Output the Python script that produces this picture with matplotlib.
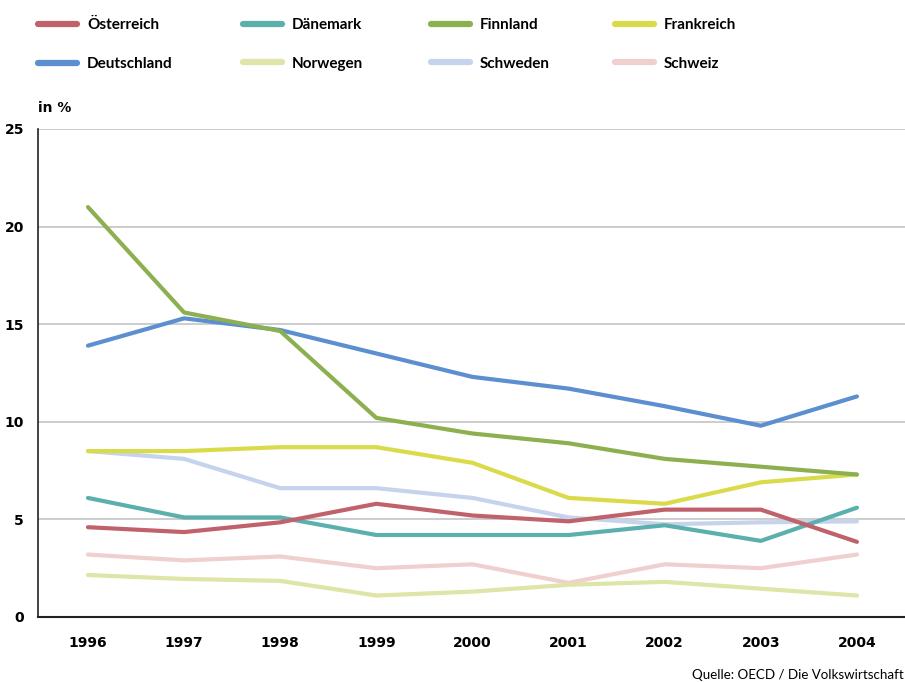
import matplotlib
matplotlib.use("Agg")
import matplotlib.pyplot as plt

years = [1996, 1997, 1998, 1999, 2000, 2001, 2002, 2003, 2004]

oesterreich = [4.6, 4.35, 4.85, 5.8, 5.2, 4.9, 5.5, 5.5, 3.85]
daenemark = [6.1, 5.1, 5.1, 4.2, 4.2, 4.2, 4.7, 3.9, 5.6]
finnland = [21.0, 15.6, 14.65, 10.2, 9.4, 8.9, 8.1, 7.7, 7.3]
frankreich = [8.5, 8.5, 8.7, 8.7, 7.9, 6.1, 5.8, 6.9, 7.3]
deutschland = [13.9, 15.3, 14.7, 13.5, 12.3, 11.7, 10.8, 9.8, 11.3]
norwegen = [2.15, 1.95, 1.85, 1.1, 1.3, 1.65, 1.8, 1.45, 1.1]
schweden = [8.5, 8.1, 6.6, 6.6, 6.1, 5.1, 4.75, 4.85, 4.9]
schweiz = [3.2, 2.9, 3.1, 2.5, 2.7, 1.75, 2.7, 2.5, 3.2]

y_ticks = [0, 5, 10, 15, 20, 25]

series = {
    "Österreich": (oesterreich, "#c0626c"),
    "Dänemark": (daenemark, "#5bb0ad"),
    "Finnland": (finnland, "#8cb050"),
    "Frankreich": (frankreich, "#d9db4a"),
    "Deutschland": (deutschland, "#5b8fcf"),
    "Norwegen": (norwegen, "#dfe4a8"),
    "Schweden": (schweden, "#c5d3ec"),
    "Schweiz": (schweiz, "#f0cfcf"),
}
# drawing order (back to front)
zorders = {"Schweiz": 2, "Norwegen": 3, "Schweden": 4, "Deutschland": 5,
           "Dänemark": 6, "Österreich": 7, "Frankreich": 8, "Finnland": 9}

label_font = "Lato"

fig = plt.figure(figsize=(9.05, 6.82), dpi=100)
ax = fig.add_axes([38 / 905, 65 / 682, 867 / 905, 488 / 682])

lines = {}
for name, (vals, col) in series.items():
    ln, = ax.plot(years, vals, color=col, lw=3.0, solid_capstyle="round",
                  solid_joinstyle="round", zorder=zorders[name], label=name)
    lines[name] = ln

ax.set_xlim(1995.48, 2004.5)
ax.set_ylim(0, 25)
ax.set_yticks(y_ticks)
ax.set_xticks(years)
ax.set_xticklabels([str(y) for y in years], fontsize=10, fontweight="bold",
                   family="DejaVu Sans")
ax.set_yticklabels([str(v) for v in y_ticks], fontsize=10, fontweight="bold",
                   family="DejaVu Sans")
ax.tick_params(axis="both", length=0)
ax.tick_params(axis="y", pad=10)
ax.tick_params(axis="x", pad=14)
ax.yaxis.grid(True, color="#c4c4c4", lw=1.2, zorder=0)
ax.set_axisbelow(True)
for s in ["top", "right"]:
    ax.spines[s].set_visible(False)
ax.spines["left"].set_color("#222222")
ax.spines["bottom"].set_color("#222222")
ax.spines["left"].set_linewidth(1.2)
ax.spines["bottom"].set_linewidth(1.5)

fig.text(38 / 905, 1 - 108 / 682, "in %", fontsize=10, fontweight="bold",
         family="DejaVu Sans", va="center", ha="left")

# legend in four columns of two entries
columns = [["Österreich", "Deutschland"], ["Dänemark", "Norwegen"],
           ["Finnland", "Schweden"], ["Frankreich", "Schweiz"]]
col_x = [38, 243, 431, 615]
for cx, names in zip(col_x, columns):
    leg = fig.legend([lines[n] for n in names], names, loc="upper left",
                     bbox_to_anchor=(cx / 905, 1 - 18 / 682), frameon=False,
                     borderpad=0, borderaxespad=0,
                     handlelength=2.55, handletextpad=0.65, labelspacing=1.62,
                     prop={"family": label_font, "weight": "bold", "size": 11})
    for h in leg.legend_handles:
        h.set_linewidth(4.5)

fig.text(692 / 905, 1 - 675 / 682, "Quelle: OECD / Die Volkswirtschaft",
         fontsize=9.6, family=label_font, ha="left", va="center")

fig.savefig("out.png", dpi=100)
